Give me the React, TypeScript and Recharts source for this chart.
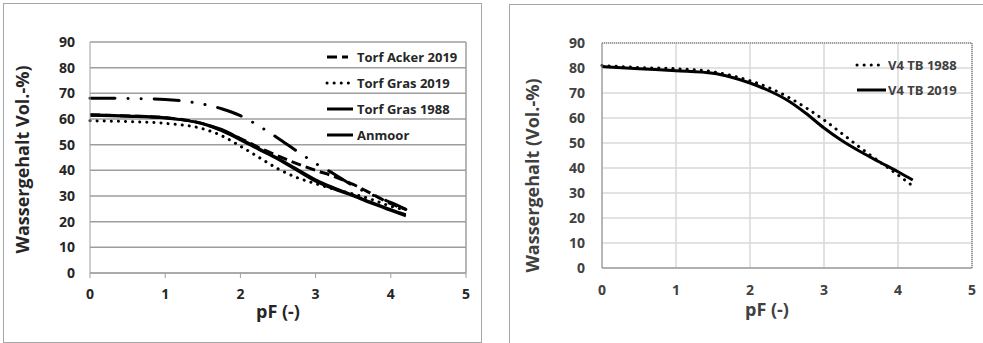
import React from 'react';
import {
  LineChart,
  Line,
  XAxis,
  YAxis,
  CartesianGrid,
  Legend,
  ReferenceLine,
  Label,
} from 'recharts';

const FONT = '"Open Sans", Lato, sans-serif';

// linke Grafik: pF-Stufen und Wassergehalte (Vol.-%)
const pfLeft = [0, 0.5, 1, 1.5, 1.75, 2, 2.25, 2.5, 2.75, 3, 3.25, 3.5, 3.75, 4, 4.2];
const torfAcker2019 = [61.6, 61.2, 60.5, 58.2, 55.6, 52.4, 48.8, 45.6, 42.6, 40.0, 37.6, 34.5, 30.8, 27.0, 24.8];
const torfGras2019 = [59.3, 59.0, 58.3, 56.2, 53.5, 49.4, 45.0, 40.6, 37.2, 34.8, 32.6, 30.8, 28.6, 26.0, 24.5];
const torfGras1988 = [61.8, 61.3, 60.6, 58.0, 55.4, 51.8, 48.0, 44.3, 40.0, 35.7, 32.6, 30.0, 27.0, 24.3, 22.2];
const anmoor = [61.4, 61.0, 60.3, 58.3, 56.0, 52.4, 48.5, 44.7, 40.6, 36.4, 33.2, 30.4, 27.5, 24.8, 22.8];
// Strich-Punkt-Kurve, steht nicht in der Legende
const torfOhneLegende = [68.1, 68.0, 67.6, 65.8, 64.0, 61.3, 57.2, 52.5, 47.5, 42.7, 38.5, 34.0, 30.5, 27.5, 24.8];

// rechte Grafik
const pfRight = [0, 0.5, 1, 1.5, 1.75, 2, 2.25, 2.5, 2.75, 3, 3.25, 3.5, 3.75, 4, 4.2];
const v4tb1988 = [81.0, 80.2, 79.7, 78.5, 77.0, 74.9, 72.2, 68.6, 64.2, 59.2, 53.6, 47.9, 42.5, 37.2, 32.8];
const v4tb2019 = [80.6, 79.7, 78.9, 77.9, 76.3, 74.0, 71.0, 67.2, 62.0, 56.0, 50.8, 46.4, 42.4, 38.5, 35.2];

const pfTicks = [0, 1, 2, 3, 4, 5];
const wgTicks = [0, 10, 20, 30, 40, 50, 60, 70, 80, 90];

const leftData = pfLeft.map((pf, i) => ({
  pf,
  acker19: torfAcker2019[i],
  gras19: torfGras2019[i],
  gras88: torfGras1988[i],
  anmoor: anmoor[i],
  extra: torfOhneLegende[i],
}));

const rightData = pfRight.map((pf, i) => ({
  pf,
  tb88: v4tb1988[i],
  tb19: v4tb2019[i],
}));

const DOTS = '0.1 7';
// Reihenfolge und Linienart der Legendeneinträge
const legendOrder = ['acker19', 'gras19', 'gras88', 'anmoor', 'tb88', 'tb19'];
const legendIcon: Record<string, { dash?: string; cap?: 'round' | 'butt'; w?: number }> = {
  acker19: { dash: '10 5', cap: 'butt', w: 23 },
  gras19: { dash: DOTS, cap: 'round', w: 24 },
  gras88: {},
  anmoor: {},
  tb88: { dash: DOTS, cap: 'round', w: 25 },
  tb19: {},
};

const LegendRows = ({ payload, rowHeight, iconWidth, gap, color }: any) => {
  const items = (payload || [])
    .filter((p: any) => p.type !== 'none')
    .sort((a: any, b: any) => legendOrder.indexOf(a.dataKey) - legendOrder.indexOf(b.dataKey));
  return (
    <div style={{ fontFamily: FONT, fontWeight: 700, fontSize: 13, color }}>
      {items.map((p: any) => {
        const s = legendIcon[p.dataKey] || {};
        return (
          <div key={p.value} style={{ display: 'flex', alignItems: 'center', height: rowHeight }}>
            <svg width={iconWidth} height={8}>
              <line
                x1={2}
                y1={4}
                x2={s.w || iconWidth}
                y2={4}
                stroke="#000"
                strokeWidth={3}
                strokeDasharray={s.dash}
                strokeLinecap={s.cap || 'butt'}
              />
            </svg>
            <span style={{ marginLeft: gap, whiteSpace: 'nowrap' }}>{p.value}</span>
          </div>
        );
      })}
    </div>
  );
};

const tickLeft = { fill: '#262626', fontSize: 14, fontWeight: 700, fontFamily: FONT };
const tickRight = { fill: '#404040', fontSize: 14, fontWeight: 700, fontFamily: FONT };
const titleLeft = { fill: '#262626', fontSize: 18, fontWeight: 700, fontFamily: FONT };
const titleRight = { fill: '#404040', fontSize: 18, fontWeight: 700, fontFamily: FONT };

const App: React.FC = () => {
  return (
    <div style={{ position: 'relative', width: 983, height: 343, background: '#fff', overflow: 'hidden' }}>
      <style>{'body{margin:0}'}</style>

      {/* Rahmen */}
      <div style={{ position: 'absolute', left: 3, top: 3, width: 477, height: 338, border: '1px solid #a6a6a6' }} />
      <div
        style={{
          position: 'absolute',
          left: 509,
          top: 4,
          width: 480,
          height: 345,
          borderLeft: '1px solid #a6a6a6',
          borderTop: '1px solid #a6a6a6',
        }}
      />

      {/* linke Grafik */}
      <div style={{ position: 'absolute', left: 0, top: 0 }}>
        <LineChart width={490} height={343} data={leftData} margin={{ top: 42, right: 24, bottom: 20, left: 0 }}>
          <CartesianGrid vertical={false} stroke="#9e9e9e" strokeWidth={1.5} />
          <XAxis
            type="number"
            dataKey="pf"
            domain={[0, 5]}
            ticks={pfTicks}
            interval={0}
            height={50}
            stroke="#9e9e9e"
            tickSize={5}
            tickMargin={11}
            tick={tickLeft}
          >
            <Label value="pF (-)" position="insideBottom" offset={5} style={titleLeft} />
          </XAxis>
          <YAxis
            type="number"
            domain={[0, 90]}
            ticks={wgTicks}
            interval={0}
            width={90}
            stroke="#9e9e9e"
            tickLine={false}
            tickSize={6}
            tickMargin={9}
            tick={tickLeft}
          >
            <Label value="Wassergehalt Vol.-%)" angle={-90} position="center" dx={-22} dy={2} style={titleLeft} />
          </YAxis>
          <ReferenceLine x={5} stroke="#9e9e9e" strokeWidth={1.5} />
          <Line type="monotone" dataKey="extra" legendType="none" stroke="#000" strokeWidth={3}
            strokeDasharray="25 13 0.1 13 0.1 13" strokeLinecap="round" dot={false} isAnimationActive={false} />
          <Line type="monotone" dataKey="acker19" name="Torf Acker 2019" stroke="#000" strokeWidth={3}
            strokeDasharray="10 5" dot={false} isAnimationActive={false} />
          <Line type="monotone" dataKey="gras19" name="Torf Gras 2019" stroke="#000" strokeWidth={3}
            strokeDasharray={DOTS} strokeLinecap="round" dot={false} isAnimationActive={false} />
          <Line type="monotone" dataKey="gras88" name="Torf Gras 1988" stroke="#000" strokeWidth={2.5}
            dot={false} isAnimationActive={false} />
          <Line type="monotone" dataKey="anmoor" name="Anmoor" stroke="#000" strokeWidth={2.5}
            dot={false} isAnimationActive={false} />
          <Legend
            layout="vertical"
            align="center"
            verticalAlign="middle"
            wrapperStyle={{ left: 325, top: 44, width: 'auto' }}
            content={(props: any) => (
              <LegendRows payload={props.payload} rowHeight={26} iconWidth={28} gap={4} color="#262626" />
            )}
          />
        </LineChart>
      </div>

      {/* rechte Grafik */}
      <div style={{ position: 'absolute', left: 490, top: 0 }}>
        <LineChart width={493} height={343} data={rightData} margin={{ top: 43, right: 11, bottom: 25, left: 0 }}>
          <CartesianGrid stroke="#d9d9d9" strokeWidth={1.5} />
          <XAxis
            type="number"
            dataKey="pf"
            domain={[0, 5]}
            ticks={pfTicks}
            interval={0}
            height={50}
            stroke="#7f7f7f"
            tickLine={false}
            tickSize={6}
            tickMargin={11}
            tick={tickRight}
          >
            <Label value="pF (-)" position="insideBottom" offset={2} dx={-20} style={titleRight} />
          </XAxis>
          <YAxis
            type="number"
            domain={[0, 90]}
            ticks={wgTicks}
            interval={0}
            width={112}
            stroke="#8c8c8c"
            tickLine={false}
            tickSize={6}
            tickMargin={11}
            tick={tickRight}
          >
            <Label value="Wassergehalt (Vol.-%)" angle={-90} position="center" dx={-13} dy={20} style={titleRight} />
          </YAxis>
          <ReferenceLine y={90} stroke="#595959" strokeDasharray="1 1" />
          <ReferenceLine x={5} stroke="#595959" strokeDasharray="1 1" />
          <Line type="monotone" dataKey="tb88" name="V4 TB 1988" stroke="#000" strokeWidth={3}
            strokeDasharray={DOTS} strokeLinecap="round" dot={false} isAnimationActive={false} />
          <Line type="monotone" dataKey="tb19" name="V4 TB 2019" stroke="#000" strokeWidth={3}
            dot={false} isAnimationActive={false} />
          <Legend
            layout="vertical"
            align="center"
            verticalAlign="middle"
            wrapperStyle={{ left: 365, top: 53, width: 'auto' }}
            content={(props: any) => (
              <LegendRows payload={props.payload} rowHeight={24.5} iconWidth={31} gap={2} color="#404040" />
            )}
          />
        </LineChart>
      </div>
    </div>
  );
};

export default App;
